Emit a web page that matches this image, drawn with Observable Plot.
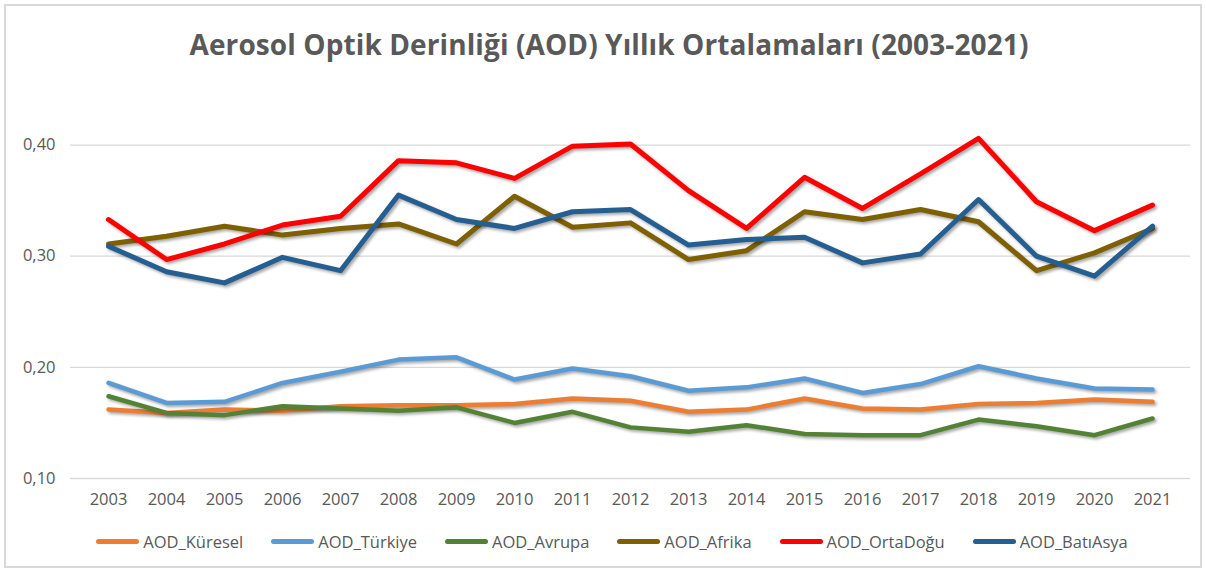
<!DOCTYPE html>
<html><head><meta charset="utf-8">
<script src="https://cdn.jsdelivr.net/npm/d3@7"></script>
<script src="https://cdn.jsdelivr.net/npm/@observablehq/plot@0.6"></script>
<style>
body{margin:0;background:#fff;}
#wrap{position:relative;width:1206px;height:572px;overflow:hidden;font-family:"Open Sans",sans-serif;background:#fff;}
#border{position:absolute;left:4px;top:4px;right:4px;bottom:4px;border:2px solid #d9d9d9;box-sizing:border-box;}
#title{position:absolute;left:6px;top:21px;width:1206px;text-align:center;font-size:28px;font-weight:700;color:#595959;line-height:46px;white-space:nowrap;letter-spacing:0.1px;}
#chart{position:absolute;left:0;top:80px;}
#legend{position:absolute;left:9px;top:530px;width:1206px;display:flex;justify-content:center;align-items:center;gap:28px;font-size:16.5px;color:#595959;}
.item{display:flex;align-items:center;gap:4px;}
.sw{width:43px;height:5px;border-radius:3px;}
#chart g[aria-label="line"]{filter:drop-shadow(2px 2px 1.5px rgba(0,0,0,0.35));}
</style></head>
<body>
<div id="wrap">
  <div id="border"></div>
  <div id="title">Aerosol Optik Derinliği (AOD) Yıllık Ortalamaları (2003-2021)</div>
  <div id="chart"></div>
  <div id="legend"></div>
</div>
<script>
const years = [2003,2004,2005,2006,2007,2008,2009,2010,2011,2012,2013,2014,2015,2016,2017,2018,2019,2020,2021];
const seriesNames = ["AOD_Küresel","AOD_Türkiye","AOD_Avrupa","AOD_Afrika","AOD_OrtaDoğu","AOD_BatıAsya"];
const seriesColors = ["#ED7D31","#5B9BD5","#548235","#7F6000","#FF0000","#255E91"];
const kuresel  = [0.162,0.159,0.162,0.161,0.165,0.166,0.166,0.167,0.172,0.170,0.160,0.162,0.172,0.163,0.162,0.167,0.168,0.171,0.169];
const turkiye  = [0.186,0.168,0.169,0.186,0.196,0.207,0.209,0.189,0.199,0.192,0.179,0.182,0.190,0.177,0.185,0.201,0.190,0.181,0.180];
const avrupa   = [0.174,0.159,0.157,0.165,0.163,0.161,0.164,0.150,0.160,0.146,0.142,0.148,0.140,0.139,0.139,0.153,0.147,0.139,0.154];
const afrika   = [0.311,0.318,0.327,0.319,0.325,0.329,0.311,0.354,0.326,0.330,0.297,0.305,0.340,0.333,0.342,0.331,0.287,0.303,0.325];
const ortadogu = [0.333,0.297,0.311,0.328,0.336,0.386,0.384,0.370,0.399,0.401,0.359,0.325,0.371,0.343,0.374,0.406,0.349,0.323,0.346];
const batiasya = [0.309,0.286,0.276,0.299,0.287,0.355,0.333,0.325,0.340,0.342,0.310,0.315,0.317,0.294,0.302,0.351,0.300,0.282,0.327];
const yTicks = [0.1,0.2,0.3,0.4];

const seriesValues = [kuresel,turkiye,avrupa,afrika,ortadogu,batiasya];
const widths = [4.5,4.5,4.5,5,5,5];

const lineMarks = seriesValues.map((vals,i) =>
  Plot.lineY(years.map((y,j)=>({year:y, value:vals[j]})), {
    x:"year", y:"value", stroke: seriesColors[i], strokeWidth: widths[i],
    strokeLinecap:"round", strokeLinejoin:"round"
  })
);

const chart = Plot.plot({
  width: 1206,
  height: 440,
  marginLeft: 70,
  marginRight: 16,
  marginTop: 9,
  marginBottom: 42,
  style: {fontFamily:"'Open Sans', sans-serif", fontSize:"16.5px", color:"#595959", background:"transparent", overflow:"visible"},
  x: {type:"point", domain: years, padding: 0.5},
  y: {domain:[0.1,0.45]},
  marks: [
    Plot.ruleY(yTicks, {stroke:"#d9d9d9", strokeWidth:1.3}),
    Plot.axisY({ticks: yTicks, tickSize:0, tickPadding:15, fontSize:16.5, tickFormat: d => d.toFixed(2).replace(".", ","), label:null}),
    Plot.axisX({tickSize:0, tickPadding:15, fontSize:16.5, tickFormat: d => String(d), label:null}),
    ...lineMarks
  ]
});
document.getElementById("chart").appendChild(chart);

const legend = document.getElementById("legend");
seriesNames.forEach((n,i) => {
  const it = document.createElement("div");
  it.className = "item";
  const sw = document.createElement("div");
  sw.className = "sw";
  sw.style.background = seriesColors[i];
  const tx = document.createElement("span");
  tx.textContent = n;
  it.appendChild(sw); it.appendChild(tx);
  legend.appendChild(it);
});
</script>
</body></html>
